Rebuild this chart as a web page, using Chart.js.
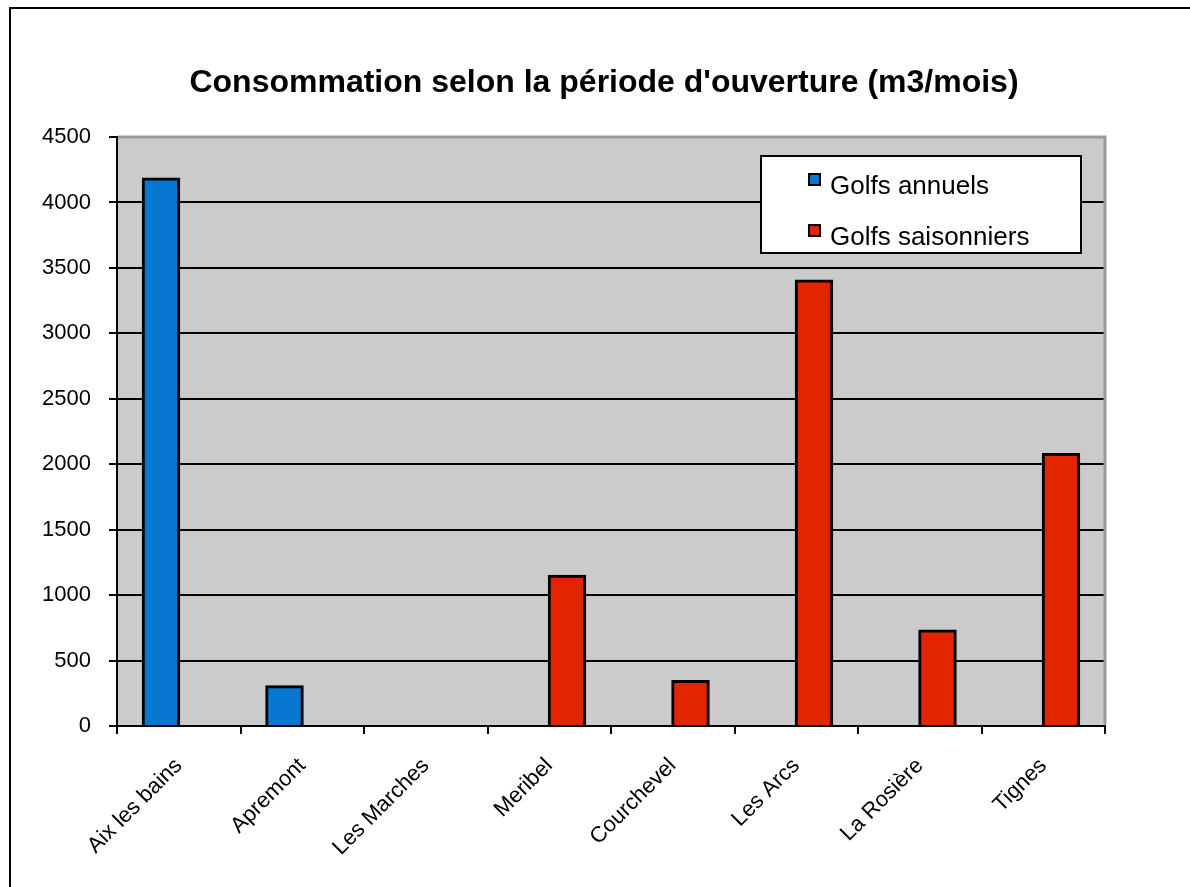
<!DOCTYPE html>
<html>
<head>
<meta charset="utf-8">
<script src="https://cdn.jsdelivr.net/npm/chart.js@4"></script>
<style>
  html, body { margin: 0; padding: 0; background: #fff; }
  #wrap { position: relative; width: 1190px; height: 887px; overflow: hidden; }
  #frame { position: absolute; left: 9px; top: 7px; width: 1300px; height: 1000px;
           border-left: 2px solid #000; border-top: 2px solid #000; }
  canvas { position: absolute; left: 0; top: 0; }
</style>
</head>
<body>
<div id="wrap">
  <div id="frame"></div>
  <canvas id="chart" width="1190" height="887"></canvas>
</div>
<script>
const chartTitle = "Consommation selon la période d'ouverture (m3/mois)";
const golfs = ['Aix les bains', 'Apremont', 'Les Marches', 'Meribel', 'Courchevel', 'Les Arcs', 'La Rosière', 'Tignes'];
const annuels = [4180, 300, null, null, null, null, null, null];
const saisonniers = [null, null, null, 1145, 340, 3400, 725, 2075];
const yTicks = [0, 500, 1000, 1500, 2000, 2500, 3000, 3500, 4000, 4500];

const FONT = 'Arial, "Liberation Sans", Helvetica, sans-serif';

// fond gris de la zone de tracé + titre
const plotBg = {
  id: 'plotBg',
  beforeDraw(chart) {
    const { ctx, chartArea: a } = chart;
    ctx.save();
    ctx.fillStyle = '#cbcbcb';
    ctx.fillRect(a.left, a.top, a.right - a.left, a.bottom - a.top);
    ctx.fillStyle = '#000';
    ctx.font = 'bold 32px ' + FONT;
    ctx.textAlign = 'center';
    ctx.textBaseline = 'middle';
    ctx.fillText(chartTitle, (a.left + a.right) / 2 - 7, 83);
    ctx.restore();
  },
  // bord gris en haut et à droite, par-dessus la grille
  beforeDatasetsDraw(chart) {
    const { ctx, chartArea: a } = chart;
    ctx.save();
    ctx.strokeStyle = '#9a9a9a';
    ctx.lineWidth = 3;
    ctx.beginPath();
    ctx.moveTo(a.left + 1, a.top);
    ctx.lineTo(a.right, a.top);
    ctx.lineTo(a.right, a.bottom - 1);
    ctx.stroke();
    ctx.restore();
  }
};

// légende encadrée dans la zone de tracé
const boxLegend = {
  id: 'boxLegend',
  afterDraw(chart) {
    const { ctx, chartArea: a } = chart;
    const x = a.right - 344, y = a.top + 19, w = 320, h = 97;
    ctx.save();
    ctx.fillStyle = '#fff';
    ctx.fillRect(x, y, w, h);
    ctx.strokeStyle = '#000';
    ctx.lineWidth = 2;
    ctx.strokeRect(x, y, w, h);
    ctx.font = '26px ' + FONT;
    ctx.textBaseline = 'alphabetic';
    ctx.textAlign = 'left';
    chart.data.datasets.forEach((ds, i) => {
      const ry = y + 18 + i * 51;
      ctx.fillStyle = ds.backgroundColor;
      ctx.fillRect(x + 48, ry, 11, 11);
      ctx.lineWidth = 2;
      ctx.strokeStyle = '#000';
      ctx.strokeRect(x + 48, ry, 11, 11);
      ctx.fillStyle = '#000';
      ctx.fillText(ds.label, x + 69, ry + 20);
    });
    ctx.restore();
  }
};

new Chart(document.getElementById('chart'), {
  type: 'bar',
  data: {
    labels: golfs,
    datasets: [
      { label: 'Golfs annuels', data: annuels, backgroundColor: '#0877d2', borderColor: '#000', borderWidth: 3, inflateAmount: 1.5 },
      { label: 'Golfs saisonniers', data: saisonniers, backgroundColor: '#e32400', borderColor: '#000', borderWidth: 3, inflateAmount: 1.5 }
    ]
  },
  plugins: [plotBg, boxLegend],
  options: {
    responsive: false,
    animation: false,
    categoryPercentage: 0.575,
    barPercentage: 1,
    layout: { padding: { top: 137, right: 85, left: 0, bottom: 0 } },
    plugins: {
      legend: { display: false },
      title: { display: false },
      tooltip: { enabled: false }
    },
    scales: {
      x: {
        offset: true,
        afterFit: s => { s.height = 161; },
        grid: { drawOnChartArea: false, drawTicks: true, tickLength: 8, color: '#000', lineWidth: 2 },
        border: { color: '#000', width: 2, z: 1 },
        ticks: {
          color: '#000', font: { family: FONT, size: 22 },
          minRotation: 45, maxRotation: 45, padding: 19, autoSkip: false
        }
      },
      y: {
        min: 0, max: 4500,
        afterFit: s => { s.width = 117; },
        afterBuildTicks: s => { s.ticks = yTicks.map(v => ({ value: v })); },
        grid: { color: '#000', lineWidth: 2, tickLength: 8, drawTicks: true },
        border: { color: '#000', width: 2, z: 1 },
        ticks: { color: '#000', font: { family: FONT, size: 22 }, padding: 18, callback: v => String(v) }
      }
    }
  }
});
</script>
</body>
</html>
